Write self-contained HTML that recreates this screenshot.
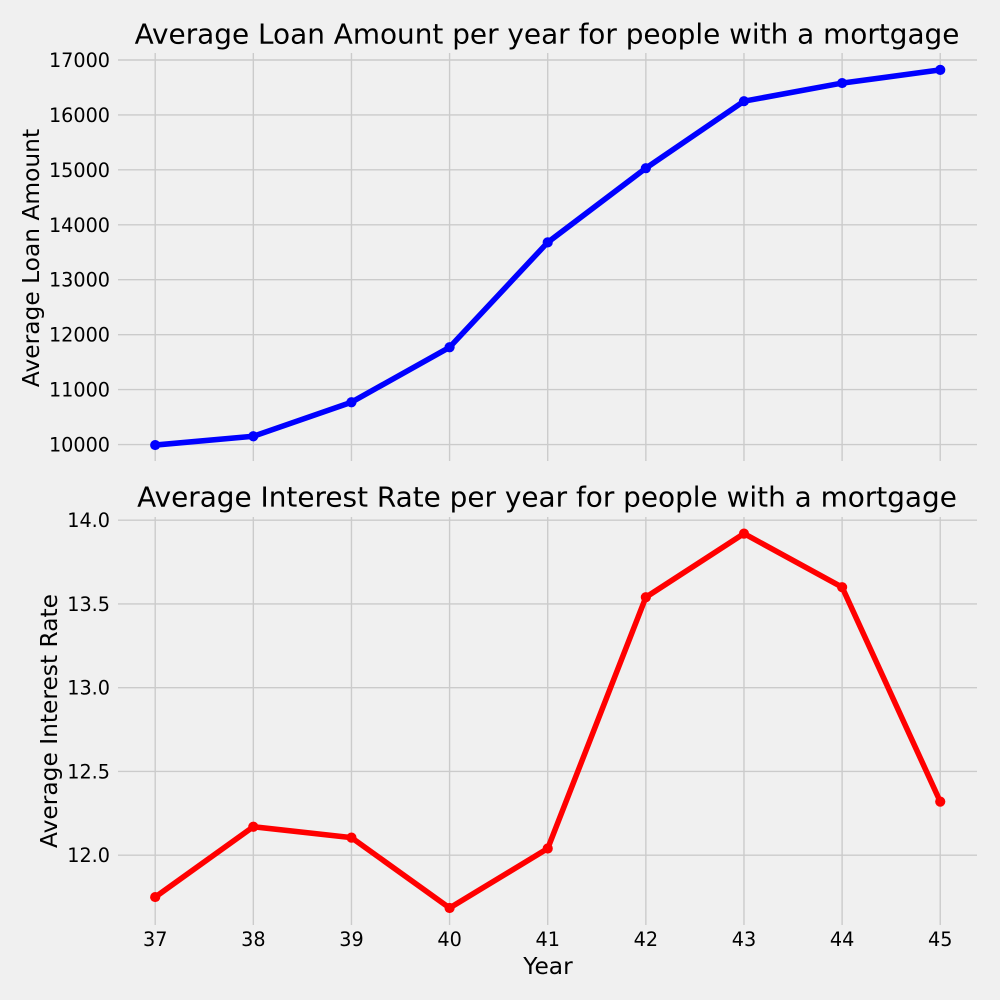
<!DOCTYPE html>
<html lang="en">
<head>
<meta charset="utf-8">
<title>Average Loan Amount and Interest Rate per year</title>
<style>
html,body{margin:0;padding:0;background:#f0f0f0;}
svg{display:block;}
text{font-family:"DejaVu Sans","Liberation Sans",sans-serif;fill:#000;}
.tick{font-size:19.2px;}
.title{font-size:27.9px;}
.label{font-size:23.33px;}
</style>
</head>
<body>
<svg id="chart" xmlns="http://www.w3.org/2000/svg" width="1000" height="1000" viewBox="0 0 1000 1000">
  <rect x="0" y="0" width="1000" height="1000" fill="#f0f0f0"/>
  <g id="top-grid"></g>
  <g id="bottom-grid"></g>
  <g id="top-marks"></g>
  <g id="bottom-marks"></g>
  <g id="top-ticks"></g>
  <g id="bottom-ticks"></g>
  <g id="x-ticks"></g>
  <text class="title" x="547" y="43.5" text-anchor="middle">Average Loan Amount per year for people with a mortgage</text>
  <text class="title" x="547" y="506.5" text-anchor="middle">Average Interest Rate per year for people with a mortgage</text>
  <text class="label" transform="translate(39,258) rotate(-90)" text-anchor="middle">Average Loan Amount</text>
  <text class="label" transform="translate(57,721) rotate(-90)" text-anchor="middle">Average Interest Rate</text>
  <text class="label" x="548" y="974" text-anchor="middle">Year</text>
</svg>
<script>
const years = [37, 38, 39, 40, 41, 42, 43, 44, 45];
const loanAmounts = [9990, 10150, 10770, 11770, 13680, 15030, 16250, 16580, 16820];
const interestRates = [11.75, 12.17, 12.105, 11.685, 12.04, 13.54, 13.92, 13.60, 12.32];
const loanTicks = [10000, 11000, 12000, 13000, 14000, 15000, 16000, 17000];
const rateTicks = [12.0, 12.5, 13.0, 13.5, 14.0];

const NS = 'http://www.w3.org/2000/svg';
function xPos(year) { return 155.2 + (year - 37) * 98.13; }
function yLoan(v) { return 60 + (17000 - v) * 0.05493; }
function yRate(v) { return 520.2 + (14 - v) * 167.5; }
function make(tag, attrs, parent) {
  const el = document.createElementNS(NS, tag);
  for (const k in attrs) el.setAttribute(k, attrs[k]);
  parent.appendChild(el);
  return el;
}
function drawPanel(opts) {
  const grid = document.getElementById(opts.gridId);
  const marks = document.getElementById(opts.marksId);
  const ticks = document.getElementById(opts.ticksId);
  const gridStyle = { stroke: '#cbcbcb', 'stroke-width': 1.39, fill: 'none' };
  years.forEach(function (yr) {
    const line = make('line', Object.assign({ x1: xPos(yr), x2: xPos(yr), y1: opts.top, y2: opts.bottom }, gridStyle), grid);
    
    
  });
  opts.tickValues.forEach(function (v) {
    const y = opts.y(v);
    const line = make('line', Object.assign({ x1: 118, x2: 977, y1: y, y2: y }, gridStyle), grid);
    
    
    const label = make('text', { class: 'tick', x: 110, y: y + 7, 'text-anchor': 'end' }, ticks);
    
    
    label.textContent = opts.fmt(v);
  });
  const pts = opts.values.map(function (v, i) { return xPos(years[i]) + ',' + opts.y(v); }).join(' ');
  const path = make('polyline', { points: pts, fill: 'none', stroke: opts.color, 'stroke-width': 5.56, 'stroke-linejoin': 'round', 'stroke-linecap': 'round' }, marks);
  
  
  opts.values.forEach(function (v, i) {
    const dot = make('circle', { cx: xPos(years[i]), cy: opts.y(v), r: 5.1, fill: opts.color }, marks);
    
    
  });
}
drawPanel({ gridId: 'top-grid', marksId: 'top-marks', ticksId: 'top-ticks', top: 53, bottom: 461, y: yLoan, values: loanAmounts, tickValues: loanTicks, color: '#0000ff', fmt: function (v) { return String(v); } });
drawPanel({ gridId: 'bottom-grid', marksId: 'bottom-marks', ticksId: 'bottom-ticks', top: 517, bottom: 925, y: yRate, values: interestRates, tickValues: rateTicks, color: '#ff0000', fmt: function (v) { return v.toFixed(1); } });
const xTickGroup = document.getElementById('x-ticks');
years.forEach(function (yr) {
  const label = make('text', { class: 'tick', x: xPos(yr), y: 946, 'text-anchor': 'middle' }, xTickGroup);
  
  
  label.textContent = String(yr);
});
</script>
</body>
</html>
